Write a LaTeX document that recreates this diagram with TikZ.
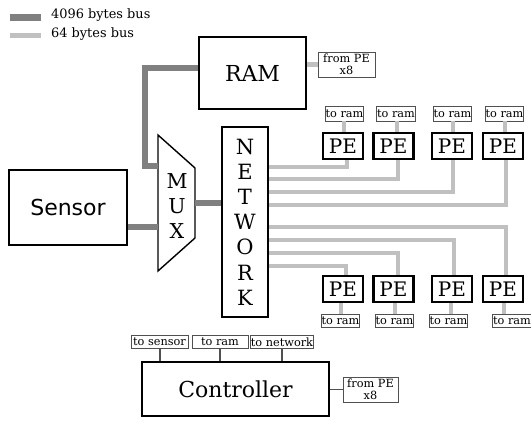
\documentclass[tikz,border=0pt]{standalone}
\usepackage{fontspec}
\setmainfont{DejaVu Serif}
\newfontfamily\sansf{DejaVu Sans}
\definecolor{busdark}{HTML}{808080}
\definecolor{buslight}{HTML}{C0C0C0}
\definecolor{thinline}{HTML}{505050}
\tikzset{
  big/.style={draw, line width=2pt, inner sep=0pt, font=\fontsize{22}{26}\selectfont},
  pebox/.style={draw, line width=2.3pt, minimum width=40pt, minimum height=26pt, inner sep=0pt, font=\fontsize{20}{24}\selectfont},
  lbl/.style={draw=thinline, line width=0.8pt, inner sep=0.5pt, minimum height=15pt, font=\fontsize{11.3}{12}\selectfont},
  clbl/.style={draw=thinline, line width=0.8pt, inner sep=0.5pt, minimum height=13pt, font=\fontsize{11.3}{12}\selectfont},
  darkbus/.style={draw=busdark, line width=6pt},
  lightbus/.style={draw=buslight, line width=4.5pt},
  thinlink/.style={draw=thinline, line width=1.2pt},
}
\begin{document}
\begin{tikzpicture}[x=1pt,y=-1pt]
\useasboundingbox (0,0) rectangle (531,421);
% legend
\coordinate (ld1) at (10,17); \coordinate (ld2) at (41,17);
\coordinate (ll1) at (10,35); \coordinate (ll2) at (41,35);
\draw[draw=busdark, line width=7pt] (ld1) -- (ld2);
\draw[draw=buslight, line width=5pt] (ll1) -- (ll2);
\node[anchor=base west, inner sep=0pt, font=\fontsize{12.9}{14}\selectfont] (leg1) at (51,18.5) {4096 bytes bus};
\node[anchor=base west, inner sep=0pt, font=\fontsize{12.9}{14}\selectfont] (leg2) at (51,37) {64 bytes bus};

% main blocks
\node[big, minimum width=107pt, minimum height=72pt] (ram) at (252.5,73) {RAM};
\node[draw, line width=1.4pt, minimum width=118pt, minimum height=75pt, inner sep=0pt, font=\sansf\fontsize{22}{26}\selectfont] (sensor) at (68,207.5) {Sensor};
\node[draw, line width=1.8pt, minimum width=46pt, minimum height=190pt, inner sep=0pt, align=center, font=\fontsize{21}{25.2}\selectfont] (net) at (245,222) {N\\E\\T\\W\\O\\R\\K};

% MUX
\coordinate (m1) at (158,135);
\coordinate (m2) at (195,168);
\coordinate (m3) at (195,238);
\coordinate (m4) at (158,271);
\draw[line width=1.4pt, line join=miter] (m1) -- (m2) -- (m3) -- (m4) -- cycle;
\node[inner sep=0pt, align=center, font=\fontsize{20.5}{24.7}\selectfont] (mux) at (177,206) {M\\U\\X};

% dark buses
\coordinate (ramin) at (145,68);
\coordinate (muxtop) at (158,166);
\coordinate (muxsen) at (158,227);
\coordinate (muxout) at (195,203);
\draw[darkbus, line join=miter] (ram.west |- ramin) -- (ramin) -- (ramin |- muxtop) -- (muxtop);
\draw[darkbus] (sensor.east |- muxsen) -- (muxsen);
\draw[darkbus] (muxout) -- (net.west |- muxout);

% RAM from PE
\node[lbl, minimum width=57pt, minimum height=25pt, align=center, inner sep=0pt, font=\fontsize{11.3}{12}\selectfont] (rfp) at (346.5,64.5) {from PE\\x8};
\draw[lightbus] (ram.east |- rfp) -- (rfp.west);

% top PEs
\node[pebox] (pa) at (343,146) {PE};
\node[pebox] (pb) at (393.5,146) {PE};
\node[pebox] (pc) at (452,146) {PE};
\node[pebox] (pd) at (503,146) {PE};
\node[lbl, minimum width=37pt] (ta) at (344.5,113.5) {to ram};
\node[lbl, minimum width=34pt] (tb) at (396,113.5) {to ram};
\node[lbl, minimum width=35pt] (tc) at (452.5,113.5) {to ram};
\node[lbl, minimum width=35pt] (td) at (504.5,113.5) {to ram};
\coordinate (xa) at (344,0); \coordinate (xb) at (397,0);
\coordinate (xc) at (453,0); \coordinate (xd) at (505,0);
\draw[lightbus] (ta.south -| xa) -- (pa.north -| xa);
\draw[lightbus] (tb.south -| xb) -- (pb.north -| xb);
\draw[lightbus] (tc.south -| xc) -- (pc.north -| xc);
\draw[lightbus] (td.south -| xd) -- (pd.north -| xd);

% network to top PEs
\coordinate (ya) at (0,167); \coordinate (yb) at (0,179);
\coordinate (yc) at (0,192); \coordinate (yd) at (0,205);
\coordinate (ca) at (347,167); \coordinate (cb) at (398,179);
\coordinate (cc) at (453,192); \coordinate (cd) at (506,205);
\draw[lightbus] (net.east |- ya) -- (ca) -- (pa.south -| ca);
\draw[lightbus] (net.east |- yb) -- (cb) -- (pb.south -| cb);
\draw[lightbus] (net.east |- yc) -- (cc) -- (pc.south -| cc);
\draw[lightbus] (net.east |- yd) -- (cd) -- (pd.south -| cd);

% bottom PEs
\node[pebox] (qa) at (343,289) {PE};
\node[pebox] (qb) at (393.5,289) {PE};
\node[pebox] (qc) at (452,289) {PE};
\node[pebox] (qd) at (503,289) {PE};
\node[lbl, minimum width=37pt, minimum height=12.5pt] (ua) at (340.5,321) {to ram};
\node[lbl, minimum width=37pt, minimum height=12.5pt] (ub) at (394.5,321) {to ram};
\node[lbl, minimum width=35pt, minimum height=12.5pt] (uc) at (448.5,321) {to ram};
\node[lbl, minimum width=36pt, minimum height=12.5pt] (ud) at (512,321) {to ram};
\coordinate (va) at (341,0); \coordinate (vb) at (395,0);
\coordinate (vc) at (451,0); \coordinate (vd) at (504,0);
\draw[lightbus] (qa.south -| va) -- (ua.north -| va);
\draw[lightbus] (qb.south -| vb) -- (ub.north -| vb);
\draw[lightbus] (qc.south -| vc) -- (uc.north -| vc);
\draw[lightbus] (qd.south -| vd) -- (ud.north -| vd);

% network to bottom PEs
\coordinate (da) at (346,266); \coordinate (db) at (398,253);
\coordinate (dc) at (454,240); \coordinate (dd) at (506,227);
\draw[lightbus] (net.east |- da) -- (da) -- (qa.north -| da);
\draw[lightbus] (net.east |- db) -- (db) -- (qb.north -| db);
\draw[lightbus] (net.east |- dc) -- (dc) -- (qc.north -| dc);
\draw[lightbus] (net.east |- dd) -- (dd) -- (qd.north -| dd);

% controller
\node[big, line width=2.7pt, minimum width=187pt, minimum height=54pt] (ctrl) at (235.5,389) {Controller};
\node[clbl, minimum width=57pt] (cs) at (159.5,342) {to sensor};
\node[clbl, minimum width=56pt] (cr) at (220,342) {to ram};
\node[clbl, minimum width=60pt] (cn) at (282,342) {to network};
\coordinate (ka) at (160,0); \coordinate (kb) at (220,0); \coordinate (kc) at (282,0);
\draw[thinlink] (cs.south -| ka) -- (ctrl.north -| ka);
\draw[thinlink] (cr.south -| kb) -- (ctrl.north -| kb);
\draw[thinlink] (cn.south -| kc) -- (ctrl.north -| kc);
\node[lbl, minimum width=55pt, minimum height=25pt, align=center, inner sep=0pt, font=\fontsize{11.3}{12}\selectfont] (cfp) at (370.5,389.5) {from PE\\x8};
\draw[thinlink] (ctrl.east |- cfp) -- (cfp.west);
\end{tikzpicture}
\end{document}
